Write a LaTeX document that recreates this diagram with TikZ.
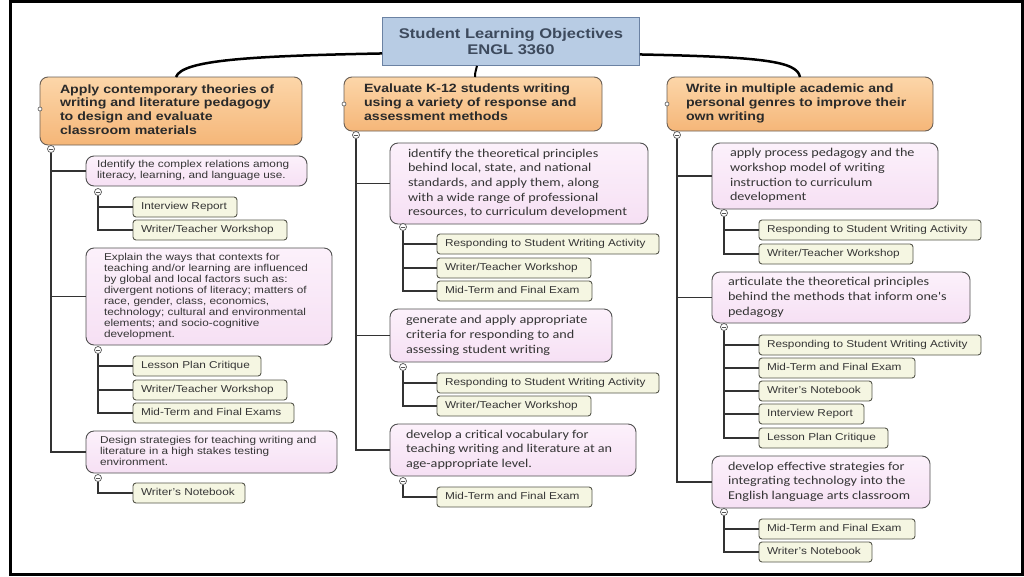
\documentclass[tikz,border=0pt]{standalone}
\usepackage{fontspec}
\setmainfont{Liberation Sans}[FakeStretch=1.18]
\newfontfamily\calfont{Carlito}[FakeStretch=1.18]
\newcommand\bxt[2]{\makebox[#1][l]{\begin{tabular}{@{}l@{}}#2\end{tabular}}}
\definecolor{txt}{HTML}{353535}
\definecolor{hdrtxt}{HTML}{2A2A2A}
\definecolor{ortop}{HTML}{FCD6A9}
\definecolor{orbot}{HTML}{F5B678}
\definecolor{hdrline}{HTML}{6A5F55}
\definecolor{pktop}{HTML}{FCF1FB}
\definecolor{pkbot}{HTML}{F6E0F4}
\definecolor{pkline}{HTML}{505050}
\definecolor{grfill}{HTML}{F5F6E2}
\definecolor{grline}{HTML}{55564A}
\definecolor{ttlfill}{HTML}{B8CCE4}
\definecolor{ttlline}{HTML}{6B82A3}
\definecolor{ttltxt}{HTML}{3D4A5D}
\definecolor{treec}{HTML}{333333}
\definecolor{iconc}{HTML}{555555}
\tikzset{
  box/.style={anchor=north west, inner ysep=0pt, outer sep=0pt, text=txt},
  hdr/.style={box, draw=hdrline, line width=0.9pt, rounded corners=8pt, top color=ortop, bottom color=orbot, font=\fontsize{12}{13.8}\selectfont\bfseries, text=hdrtxt},
  pk/.style={box, draw=pkline, line width=0.9pt, rounded corners=8pt, top color=pktop, bottom color=pkbot, font=\fontsize{10}{11}\selectfont},
  pkc/.style={pk, font=\calfont\fontsize{12}{14.7}\selectfont},
  gr/.style={box, draw=grline, line width=0.9pt, rounded corners=3pt, fill=grfill, minimum height=20pt, inner xsep=8pt, font=\fontsize{10}{12}\selectfont},
  tree/.style={draw=treec, line width=1.3pt},
  icon/.style={circle, draw=iconc, line width=0.7pt, fill=white, minimum size=7pt, inner sep=0pt,
    path picture={\draw[iconc, line width=0.7pt] ([xshift=1.6pt]path picture bounding box.west) -- ([xshift=-1.6pt]path picture bounding box.east);}},
  dot/.style={circle, draw=iconc, line width=0.6pt, fill=white, minimum size=4pt, inner sep=0pt},
  conn/.style={line width=2.5pt, draw=black},
}
\begin{document}
\begin{tikzpicture}[x=1pt,y=-1pt]
\useasboundingbox (0,0) rectangle (1024,576);
\fill[white] (0,0) rectangle (1024,576);
\draw[line width=3pt] (10.5,1.5) rectangle (1022.5,574.5);

% title and headers
\node[draw=ttlline, line width=0.9pt, fill=ttlfill, anchor=north west, minimum width=257pt, minimum height=48pt, align=center, text=ttltxt, font=\fontsize{14}{16}\selectfont\bfseries] (title) at (382,17) {Student Learning Objectives\\ENGL 3360};
\node[hdr, inner xsep=20pt, minimum height=68pt] (h1) at (40,77) {\bxt{222pt}{Apply contemporary theories of\\writing and literature pedagogy\\to design and evaluate\\classroom materials}};
\node[hdr, inner xsep=20pt, minimum height=54pt] (h2) at (344,77) {\bxt{218pt}{Evaluate K-12 students writing\\using a variety of response and\\assessment methods}};
\node[hdr, inner xsep=19pt, minimum height=54pt] (h3) at (667,77) {\bxt{228pt}{Write in multiple academic and\\personal genres to improve their\\own writing}};

\draw[conn] ([yshift=-12pt]title.west) .. controls (250,56) and (182,60) .. ([xshift=5pt]h1.north);
\draw[conn] ([yshift=-13pt]title.east) .. controls (762,57) and (797,61) .. (h3.north);
\draw[conn, line width=2pt] ([xshift=-34pt]title.south) .. controls (476,70) and (475,72) .. ([xshift=2pt]h2.north);

\node[dot] (d1) at ([yshift=2pt]h1.west) {};
\node[dot] (d2) at (h2.west) {};
\node[dot] (d3) at (h3.west) {};

% ---------- column 1 ----------
\node[pk, inner xsep=11pt, minimum height=30pt] (c1p1) at (86,156) {\bxt{199pt}{Identify the complex relations among\\literacy, learning, and language use.}};
\node[pk, inner xsep=18pt, minimum height=97pt] (c1p2) at (86,248) {\bxt{210pt}{Explain the ways that contexts for\\teaching and/or learning are influenced\\by global and local factors such as:\\divergent notions of literacy; matters of\\race, gender, class, economics,\\technology; cultural and environmental\\elements; and socio-cognitive\\development.}};
\node[pk, inner xsep=14pt, minimum height=42pt] (c1p3) at (86,431) {\bxt{223pt}{Design strategies for teaching writing and\\literature in a high stakes testing\\environment.}};

\node[gr] (g11) at (133,197) {\bxt{88pt}{Interview Report}};
\node[gr] (g12) at (133,220) {\bxt{138pt}{Writer/Teacher Workshop}};
\node[gr] (g21) at (133,356) {\bxt{112pt}{Lesson Plan Critique}};
\node[gr] (g22) at (133,380) {\bxt{138pt}{Writer/Teacher Workshop}};
\node[gr] (g23) at (133,403) {\bxt{145pt}{Mid-Term and Final Exams}};
\node[gr] (g31) at (133,483) {\bxt{96pt}{Writer's Notebook}};

\node[icon] (i1) at (51,149) {};
\node[icon] (i11) at (98,192) {};
\node[icon] (i12) at (98,350) {};
\node[icon] (i13) at (98,478) {};
\draw[tree] (i1.south) |- (c1p1.west);
\draw[tree] (i1.south) |- (c1p2.west);
\draw[tree] (i1.south) |- (c1p3.west);
\draw[tree] (i11.south) |- (g11.west);
\draw[tree] (i11.south) |- (g12.west);
\draw[tree] (i12.south) |- (g21.west);
\draw[tree] (i12.south) |- (g22.west);
\draw[tree] (i12.south) |- (g23.west);
\draw[tree] (i13.south) |- (g31.west);

% ---------- column 2 ----------
\node[pkc, inner xsep=18pt, minimum height=81pt] (c2p1) at (390,143) {\bxt{222pt}{identify the theoretical principles\\behind local, state, and national\\standards, and apply them, along\\with a wide range of professional\\resources, to curriculum development}};
\node[pkc, inner xsep=16pt, minimum height=53pt] (c2p2) at (390,309) {\bxt{190pt}{generate and apply appropriate\\criteria for responding to and\\assessing student writing}};
\node[pkc, inner xsep=16pt, minimum height=52pt] (c2p3) at (390,424) {\bxt{214pt}{develop a critical vocabulary for\\teaching writing and literature at an\\age-appropriate level.}};

\node[gr] (h11) at (437,234) {\bxt{206pt}{Responding to Student Writing Activity}};
\node[gr] (h12) at (437,258) {\bxt{138pt}{Writer/Teacher Workshop}};
\node[gr] (h13) at (437,281) {\bxt{139pt}{Mid-Term and Final Exam}};
\node[gr] (h21) at (437,373) {\bxt{206pt}{Responding to Student Writing Activity}};
\node[gr] (h22) at (437,396) {\bxt{138pt}{Writer/Teacher Workshop}};
\node[gr] (h31) at (437,487) {\bxt{139pt}{Mid-Term and Final Exam}};

\node[icon] (i2) at (356,135) {};
\node[icon] (i21) at (403,227) {};
\node[icon] (i22) at (403,367) {};
\node[icon] (i23) at (403,481) {};
\draw[tree] (i2.south) |- (c2p1.west);
\draw[tree] (i2.south) |- (c2p2.west);
\draw[tree] (i2.south) |- (c2p3.west);
\draw[tree] (i21.south) |- (h11.west);
\draw[tree] (i21.south) |- (h12.west);
\draw[tree] (i21.south) |- (h13.west);
\draw[tree] (i22.south) |- (h21.west);
\draw[tree] (i22.south) |- (h22.west);
\draw[tree] (i23.south) |- (h31.west);

% ---------- column 3 ----------
\node[pkc, inner xsep=18pt, minimum height=66pt] (c3p1) at (712,143) {\bxt{190pt}{apply process pedagogy and the\\workshop model of writing\\instruction to curriculum\\development}};
\node[pkc, inner xsep=16pt, minimum height=51pt] (c3p2) at (712,272) {\bxt{226pt}{articulate the theoretical principles\\behind the methods that inform one's\\pedagogy}};
\node[pkc, inner xsep=16pt, minimum height=52pt] (c3p3) at (712,456) {\bxt{186pt}{develop effective strategies for\\integrating technology into the\\English language arts classroom}};

\node[gr] (k11) at (759,220) {\bxt{206pt}{Responding to Student Writing Activity}};
\node[gr] (k12) at (759,244) {\bxt{138pt}{Writer/Teacher Workshop}};
\node[gr] (k21) at (759,335) {\bxt{206pt}{Responding to Student Writing Activity}};
\node[gr] (k22) at (759,358) {\bxt{140pt}{Mid-Term and Final Exam}};
\node[gr] (k23) at (759,381) {\bxt{97pt}{Writer's Notebook}};
\node[gr] (k24) at (759,404) {\bxt{89pt}{Interview Report}};
\node[gr] (k25) at (759,428) {\bxt{113pt}{Lesson Plan Critique}};
\node[gr] (k31) at (759,519) {\bxt{140pt}{Mid-Term and Final Exam}};
\node[gr] (k32) at (759,542) {\bxt{97pt}{Writer's Notebook}};

\node[icon] (i3) at (677,135) {};
\node[icon] (i31) at (724,213) {};
\node[icon] (i32) at (724,327) {};
\node[icon] (i33) at (724,512) {};
\draw[tree] (i3.south) |- (c3p1.west);
\draw[tree] (i3.south) |- (c3p2.west);
\draw[tree] (i3.south) |- (c3p3.west);
\draw[tree] (i31.south) |- (k11.west);
\draw[tree] (i31.south) |- (k12.west);
\draw[tree] (i32.south) |- (k21.west);
\draw[tree] (i32.south) |- (k22.west);
\draw[tree] (i32.south) |- (k23.west);
\draw[tree] (i32.south) |- (k24.west);
\draw[tree] (i32.south) |- (k25.west);
\draw[tree] (i33.south) |- (k31.west);
\draw[tree] (i33.south) |- (k32.west);
\end{tikzpicture}
\end{document}
